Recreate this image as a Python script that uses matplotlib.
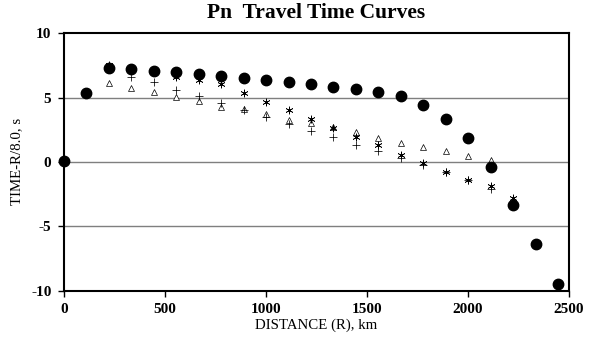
import matplotlib
matplotlib.use("Agg")
import matplotlib.pyplot as plt

# Distances (km)
dist_circle = [0, 111, 222, 334, 445, 556, 667, 778, 890, 1001, 1112, 1223,
               1334, 1445, 1557, 1668, 1779, 1890, 2001, 2113, 2224, 2335, 2446]
time_circle = [0.07, 5.38, 7.33, 7.20, 7.09, 6.97, 6.84, 6.68, 6.55, 6.37, 6.21,
               6.03, 5.85, 5.65, 5.44, 5.15, 4.45, 3.34, 1.88, -0.37, -3.37,
               -6.38, -9.49]

dist_tri = [222, 334, 445, 556, 667, 778, 890, 1001, 1112, 1223, 1334, 1445,
            1557, 1668, 1779, 1890, 2001, 2113]
time_tri = [6.16, 5.75, 5.44, 5.05, 4.73, 4.29, 4.09, 3.70, 3.28, 3.00, 2.75,
            2.33, 1.88, 1.49, 1.16, 0.82, 0.48, 0.15]

dist_plus = [222, 334, 445, 556, 667, 778, 890, 1001, 1112, 1223, 1334, 1445,
             1557, 1668, 1779, 1890, 2001, 2113, 2224]
time_plus = [7.30, 6.63, 6.19, 5.59, 5.12, 4.58, 4.04, 3.49, 2.95, 2.43, 1.91,
             1.31, 0.85, 0.33, -0.20, -0.76, -1.41, -2.13, -3.10]

dist_star = [222, 334, 445, 556, 667, 778, 890, 1001, 1112, 1223, 1334, 1445,
             1557, 1668, 1779, 1890, 2001, 2113, 2224]
time_star = [7.50, 7.15, 7.00, 6.63, 6.37, 6.03, 5.38, 4.68, 4.01, 3.34, 2.65,
             1.96, 1.31, 0.50, -0.05, -0.76, -1.41, -1.85, -2.78]

x_ticks = [0, 500, 1000, 1500, 2000, 2500]
y_ticks = [-10, -5, 0, 5, 10]

serif = ["Liberation Serif", "DejaVu Serif"]

fig = plt.figure(figsize=(5.92, 3.46), dpi=100)
ax = fig.add_axes([0.108, 0.160, 0.853, 0.744])

for yv in [-5, 0, 5]:
    ax.axhline(yv, color="#7f7f7f", lw=1.0, zorder=1)

ax.plot(dist_tri, time_tri, linestyle="none", marker="^", markersize=4.8,
        mfc="white", mec="black", mew=0.5, zorder=3)
ax.plot(dist_plus, time_plus, linestyle="none", marker="+", markersize=6,
        color="black", mew=0.55, zorder=3)
ax.plot(dist_star, time_star, linestyle="none", marker=(6, 2, 0), markersize=5.5,
        color="black", mew=0.5, zorder=3)
ax.plot(dist_circle, time_circle, linestyle="none", marker="o", markersize=7.5,
        color="black", zorder=4, clip_on=False)

ax.set_xlim(0, 2500)
ax.set_ylim(-10, 10)
ax.set_xticks(x_ticks)
ax.set_yticks(y_ticks)
ax.set_xticklabels([str(v) for v in x_ticks], fontfamily=serif,
                   fontweight="bold", fontsize=11)
ax.set_yticklabels([str(v) for v in y_ticks], fontfamily=serif,
                   fontweight="bold", fontsize=11)
ax.tick_params(direction="out", length=4, width=1.0, pad=5)

for s in ax.spines.values():
    s.set_linewidth(1.5)
    s.set_color("black")

ax.set_xlabel("DISTANCE (R), km", fontfamily=serif, fontsize=10.7, labelpad=2)
ax.set_ylabel("TIME-R/8.0, s", fontfamily=serif, fontsize=10.7, labelpad=6)
fig.text(0.534, 0.962, "Pn  Travel Time Curves", fontfamily=serif,
         fontweight="bold", fontsize=15.5, ha="center", va="center")

fig.savefig("out.png", dpi=100)
